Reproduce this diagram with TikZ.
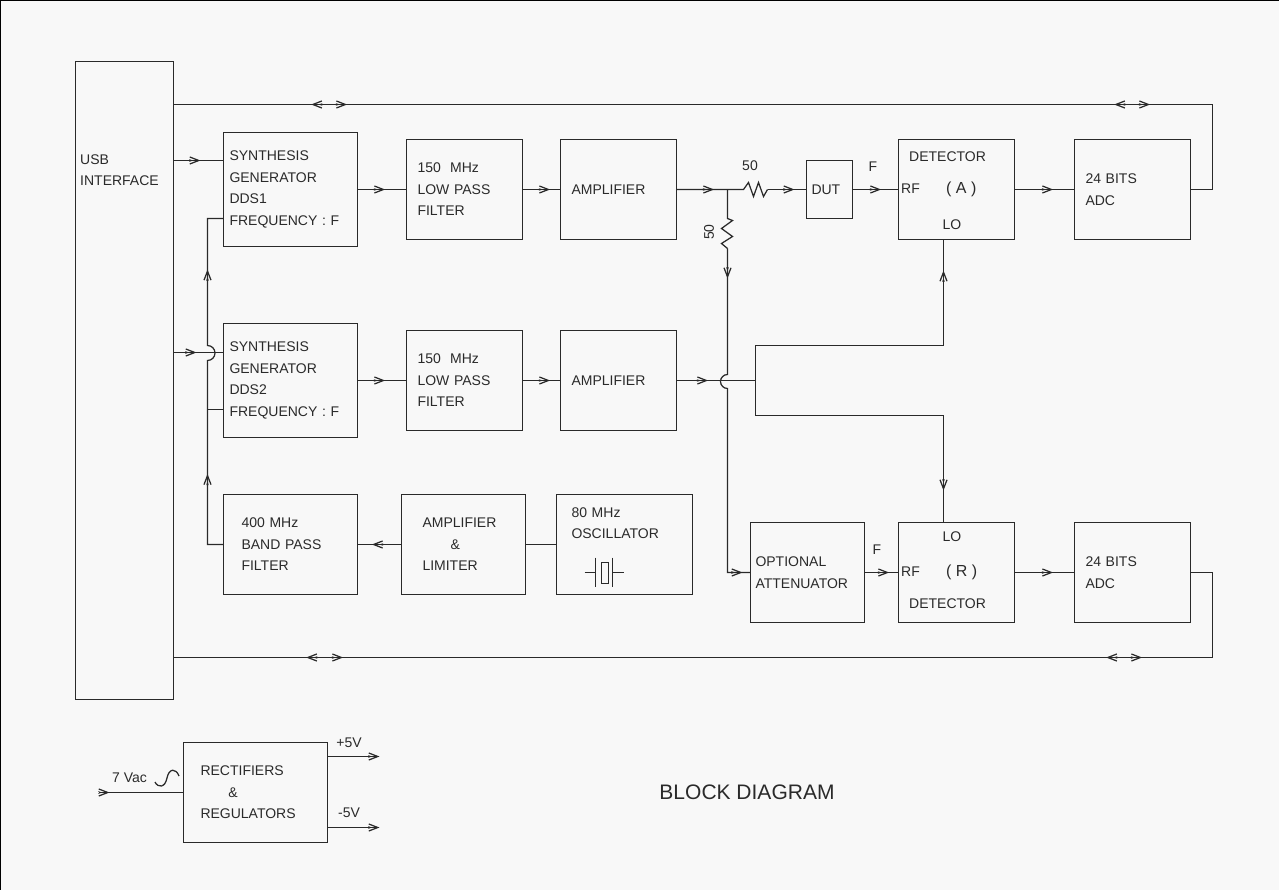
\documentclass[tikz,border=0pt]{standalone}
\usepackage{fontspec}
\setmainfont{Liberation Sans}
\usetikzlibrary{arrows.meta,decorations.markings}
\definecolor{paper}{HTML}{F8F8F8}
\definecolor{ink}{HTML}{2A2A2A}
\tikzset{
  barb/.tip={Stealth[length=4pt,width=2.6pt,sep=-4pt]Straight Barb[length=9pt,width=7pt]},
  wire/.style={line width=1.25pt, draw=ink},
  txt/.style={font=\fontsize{14}{21.5}\selectfont, text=ink, inner sep=0pt, align=left},
  blk/.style n args={3}{draw=ink, line width=1.25pt, txt, minimum height=#2pt,
    inner xsep=#3pt, text width=#1pt-2*#3pt},
  tipat/.style={postaction={decorate}, decoration={markings,
    mark=at position #1pt with {\arrow{barb}}}},
  tiptwo/.style 2 args={postaction={decorate}, decoration={markings,
    mark=at position #1pt with {\arrow{barb}},
    mark=at position #2pt with {\arrow{barb}}}},
  twotips/.style n args={4}{postaction={decorate}, decoration={markings,
    mark=at position #1pt with {\arrowreversed{barb}},
    mark=at position #2pt with {\arrow{barb}},
    mark=at position #3pt with {\arrowreversed{barb}},
    mark=at position #4pt with {\arrow{barb}}}}
}
\begin{document}
\begin{tikzpicture}[x=1pt,y=-1pt]
  \useasboundingbox (0,0) rectangle (1279,890);
  \fill[paper] (0,0) rectangle (1279,890);
  \draw[line width=1.4pt, black] (0,890) -- (0,0) -- (1279,0);

  % blocks
  \node[blk={98}{638}{4}] (usb) at (124.5,380.5) {};
  \node[txt, anchor=west] (usbtxt) at (80,170) {USB\\INTERFACE};
  \node[blk={134}{114}{6}] (syn1) at (290.5,189.5) {SYNTHESIS\\GENERATOR\\DDS1\\FREQUENCY : F};
  \node[blk={116}{100}{11}] (lpf1) at (464.5,189.5) {150 \ MHz\\LOW PASS\\FILTER};
  \node[blk={116}{100}{11}] (amp1) at (618.5,189.5) {AMPLIFIER};
  \node[blk={46}{58}{5}] (dut) at (829.5,189.5) {DUT};
  \node[blk={116}{100}{5}] (deta) at (956.5,189.5) {};
  \node[blk={116}{100}{11}] (adca) at (1132.5,189.5) {24 BITS\\ADC};
  \node[blk={134}{114}{6}] (syn2) at (290.5,380.5) {SYNTHESIS\\GENERATOR\\DDS2\\FREQUENCY : F};
  \node[blk={116}{100}{11}] (lpf2) at (464.5,380.5) {150 \ MHz\\LOW PASS\\FILTER};
  \node[blk={116}{100}{11}] (amp2) at (618.5,380.5) {AMPLIFIER};
  \node[blk={134}{100}{18}] (bpf) at (290.5,544.5) {400 MHz\\BAND PASS\\FILTER};
  \node[blk={124}{100}{21}] (lim) at (463.5,544.5) {AMPLIFIER\\ \ \ \ \ \ \ \&\\LIMITER};
  \node[blk={136}{100}{15}] (osc) at (624.5,544.5) {80 MHz\\OSCILLATOR\\[14.5pt]\strut};
  \node[blk={114}{100}{5}] (att) at (807.5,572.5) {OPTIONAL\\ATTENUATOR};
  \node[blk={116}{100}{5}] (detr) at (956.5,572.5) {};
  \node[blk={116}{100}{11}] (adcb) at (1132.5,572.5) {24 BITS\\ADC};
  \node[blk={144}{100}{17}] (rect) at (255.5,792.5) {RECTIFIERS\\ \ \ \ \ \ \ \&\\REGULATORS};

  % detector texts
  \node[txt, anchor=west] (detatxt) at (909,157) {DETECTOR};
  \node[txt, anchor=west] (detarf) at (901,189) {RF};
  \node[txt, anchor=west, font=\fontsize{16}{20}\selectfont] (detaa) at (946,189) {( A )};
  \node[txt] (detalo) at (952,225) {LO};
  \node[txt] (detrlo) at (952,537) {LO};
  \node[txt, anchor=west] (detrrf) at (901,572) {RF};
  \node[txt, anchor=west, font=\fontsize{16}{20}\selectfont] (detrr) at (946,572) {( R )};
  \node[txt, anchor=west] (detrtxt) at (909,604) {DETECTOR};

  % small labels
  \node[txt] (fa) at (873,167) {F};
  \node[txt] (fb) at (877,550) {F};
  \node[txt] (ra) at (750,166) {50};
  \node[txt, rotate=90] (rb) at (709,232) {50};
  \node[txt, anchor=west] (vac) at (112,778) {7 Vac};
  \node[txt] (pv) at (349,743) {+5V};
  \node[txt] (nv) at (349,813) {-5V};
  \node[txt, font=\fontsize{21}{24}\selectfont] (title) at (747,792) {BLOCK DIAGRAM};

  % helper points
  \coordinate (topr) at (1212.5,104.5);
  \coordinate (botr) at (1212.5,657.5);
  \coordinate (ctl1) at (173.5,160.5);
  \coordinate (ctl2) at (173.5,352.5);
  \coordinate (clkup) at (207.5,218.5);
  \coordinate (clkmid) at (207.5,409.5);
  \coordinate (clkhopb) at (207.5,360.5);
  \coordinate (rfa) at (727.5,189.5);
  \coordinate (ra1) at (743.5,189.5);
  \coordinate (ra2) at (767.5,189.5);
  \coordinate (rb1) at (727.5,218.5);
  \coordinate (rb2) at (727.5,248.5);
  \coordinate (rfhopa) at (727.5,374.5);
  \coordinate (rfc) at (727.5,572.5);
  \coordinate (lo) at (755.5,380.5);
  \coordinate (loa) at (755.5,345.5);
  \coordinate (lob) at (755.5,415.5);
  \coordinate (lox) at (943.5,380.5);
  \coordinate (acin) at (99.5,792.5);
  \coordinate (pvout) at (379.5,756.5);
  \coordinate (nvout) at (379.5,827.5);

  % busses
  \draw[wire, twotips={137}{173}{940}{976}] (usb.east |- topr) -- (topr) -- (topr |- adca.east) -- (adca.east);
  \draw[wire, twotips={132}{169}{932}{968}] (usb.east |- botr) -- (botr) -- (botr |- adcb.east) -- (adcb.east);

  % upper chain
  \draw[wire, tipat=27] (ctl1) -- (syn1.west |- ctl1);
  \draw[wire, tipat=27] (syn1.east) -- (lpf1.west);
  \draw[wire, tipat=27] (lpf1.east) -- (amp1.west);
  \draw[wire, tipat=37] (amp1.east) -- (rfa) -- (ra1)
    -- ++(5,-7) -- ++(5,14) -- ++(5,-14) -- ++(5,14) -- (ra2);
  \draw[wire, tipat=27] (ra2) -- (dut.west);
  \draw[wire, tipat=28] (dut.east) -- (deta.west);
  \draw[wire, tipat=38] (deta.east) -- (adca.west);

  % lower chain
  \draw[wire, tipat=23] (ctl2) -- (syn2.west |- ctl2);
  \draw[wire, tipat=27] (syn2.east) -- (lpf2.west);
  \draw[wire, tipat=27] (lpf2.east) -- (amp2.west);
  \draw[wire, tipat=31] (amp2.east) -- (lo);
  \draw[wire] (loa) -- (lob);

  % clock
  \draw[wire, tipat=30] (osc.west) -- (lim.east);
  \draw[wire, tipat=29] (lim.west) -- (bpf.east);
  \draw[wire, tiptwo={86}{299}] (bpf.west) -- (clkmid |- bpf.west) -- (clkhopb)
    arc[start angle=-90, end angle=90, radius=7.5pt] -- (clkup) -- (syn1.west |- clkup);
  \draw[wire] (clkmid) -- (syn2.west |- clkmid);

  % resistor to reference path
  \draw[wire] (rfa) -- (rb1) -- ++(5,2) -- ++(-11,8) -- ++(11,8) -- ++(-11,7) -- (rb2);
  \draw[wire, tiptwo={30}{347}] (rb2) -- (rfhopa)
    arc[start angle=90, end angle=270, radius=7pt] -- (rfc) -- (att.west);
  \draw[wire, tipat=263] (loa) -- (loa -| lox) -- (lox |- deta.south);
  \draw[wire, tipat=263] (lob) -- (lob -| lox) -- (lox |- detr.north);
  \draw[wire, tipat=38] (detr.east) -- (adcb.west);
  \draw[wire, tipat=24] (att.east) -- (detr.west);

  % crystal
  \draw[wire] (584.5,572.5) -- (595.5,572.5) (595.5,557.5) -- (595.5,586.5)
    (601.5,562.5) rectangle (608.5,583.5) (612.5,557.5) -- (612.5,586.5) (612.5,572.5) -- (623.5,572.5);

  % power
  \draw[wire, tipat=10] (acin) -- (rect.west);
  \draw[wire, -barb] (rect.east |- pvout) -- (pvout);
  \draw[wire, -barb] (rect.east |- nvout) -- (nvout);
  \draw[wire] (155,782) .. controls (158,788) and (165,788) .. (167,778)
    .. controls (169,768) and (176,768) .. (179,776);
\end{tikzpicture}
\end{document}
